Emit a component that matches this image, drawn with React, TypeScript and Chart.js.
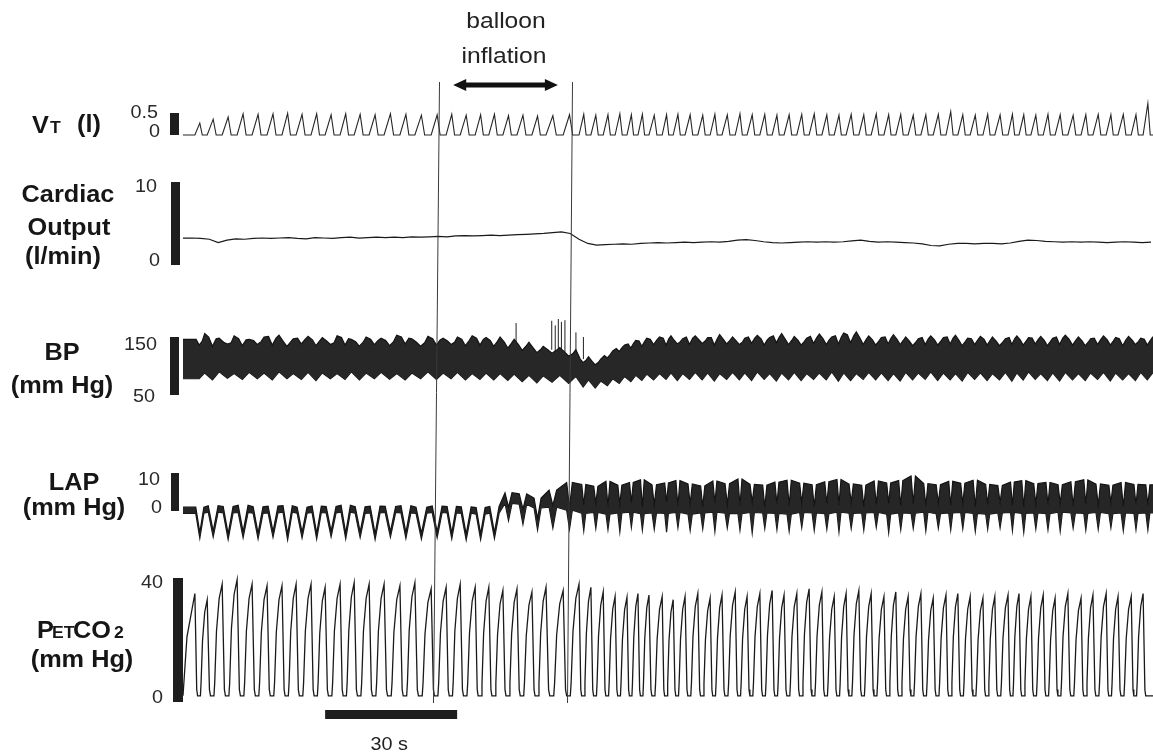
import React, { useEffect, useRef } from "react";
import { Chart, registerables } from "chart.js";

Chart.register(...registerables);

const W = 1153;
const H = 756;
const T_END = 220.45; // seconds shown across the trace area

// ---- breath timing (s): time of each end-tidal CO2 peak ----
const breathTimes = [
  2.7, 5.5, 8.9, 12.3, 15.7, 19.1, 22.5, 25.7, 29.1, 32.3,
  35.7, 38.9, 42.3, 45.7, 49.3, 52.7, 56.4, 59.8, 63.0, 66.4,
  69.5, 72.7, 75.9, 79.3, 82.5, 86.4, 90.0, 92.7, 95.5, 98.2,
  100.9, 103.4, 105.9, 108.9, 111.4, 114.1, 117.0, 119.8, 122.5, 125.5,
  128.2, 131.1, 133.9, 136.6, 139.5, 142.3, 145.2, 148.0, 150.7, 153.6,
  156.4, 159.3, 162.0, 164.8, 167.7, 170.5, 173.4, 176.1, 178.9, 181.8,
  184.5, 187.5, 190.0, 192.7, 195.5, 198.2, 201.1, 204.1, 206.8, 209.8,
  212.5, 215.5, 218.2,
];

// ---- tidal volume peak per breath (l) ----
const vtPeaks = [
  0.27, 0.36, 0.41, 0.48, 0.47, 0.48, 0.49, 0.47, 0.48, 0.46,
  0.48, 0.47, 0.46, 0.48, 0.47, 0.45, 0.46, 0.47, 0.45, 0.46,
  0.47, 0.44, 0.45, 0.43, 0.44, 0.46, 0.47, 0.45, 0.46, 0.48,
  0.46, 0.47, 0.45, 0.46, 0.47, 0.46, 0.45, 0.47, 0.46, 0.48,
  0.46, 0.47, 0.45, 0.46, 0.47, 0.48, 0.46, 0.45, 0.47, 0.46,
  0.48, 0.46, 0.47, 0.45, 0.46, 0.47, 0.53, 0.46, 0.45, 0.47,
  0.46, 0.47, 0.46, 0.45, 0.47, 0.46, 0.45, 0.46, 0.47, 0.46,
  0.47, 0.46, 0.72,
];

// ---- end-tidal CO2 peak per breath (mm Hg) ----
const co2Peaks = [
  35, 33, 38, 39.5, 38, 37.5, 37.5, 38, 38, 37,
  38, 38.5, 38, 38, 37.5, 38.5, 36.5, 37, 38, 37,
  37, 36, 36.5, 35.5, 37, 36, 38, 37, 35.5, 34,
  33.8, 35, 34.5, 34, 33, 34, 35, 33.5, 34.5, 35.5,
  34, 35, 36, 34.5, 35, 36.5, 35.5, 34, 35, 36,
  35, 34, 35.5, 34, 35, 33.5, 34.5, 35, 34, 33.5,
  34, 34.5, 35, 34, 34.5, 33.5, 35, 33.5, 34.5, 35,
  34, 34, 35,
];
const co2Trough = 2;

// ---- cardiac output (l/min), one reading every 2 s ----
const coStep = 2;
const cardiacOutput = [
  3.25, 3.25, 3.2, 3.1, 2.7, 3.0, 3.15, 3.1, 3.2, 3.25,
  3.2, 3.25, 3.3, 3.2, 3.15, 3.3, 3.25, 3.2, 3.3, 3.35,
  3.25, 3.3, 3.35, 3.3, 3.35, 3.3, 3.4, 3.35, 3.4, 3.45,
  3.4, 3.5, 3.55, 3.5, 3.55, 3.6, 3.55, 3.6, 3.65, 3.7,
  3.75, 3.8, 3.9, 4.0, 3.8, 3.1, 2.6, 2.4, 2.45, 2.5,
  2.55, 2.5, 2.6, 2.65, 2.7, 2.65, 2.7, 2.75, 2.7, 2.75,
  2.8, 2.75, 2.85, 3.0, 3.05, 2.95, 2.8, 2.7, 2.65, 2.7,
  2.75, 2.8, 2.75, 2.8, 2.75, 2.8, 2.9, 3.0, 2.85, 2.75,
  2.8, 2.75, 2.7, 2.65, 2.55, 2.35, 2.3, 2.5, 2.6, 2.6,
  2.55, 2.6, 2.6, 2.55, 2.65, 2.85, 3.0, 2.95, 2.85, 2.8,
  2.75, 2.8, 2.75, 2.8, 2.75, 2.7, 2.75, 2.8, 2.75, 2.7,
  2.75,
];

// ---- arterial pressure: upper edge of the trace, 4 readings per breath (mm Hg) ----
const bpUpperA = [
  146, 150, 141, 147, 144, 151, 142, 148, 145, 143,
  149, 142, 146, 144, 150, 141, 147, 143, 146, 148,
  144, 141, 137, 131, 128, 124, 112, 108, 118, 130,
  138, 143, 146, 148, 144, 150, 145, 149, 146, 143,
  150, 147, 152, 146, 144, 151, 147, 152, 154, 148,
  145, 150, 146, 143, 149, 145, 150, 144, 147, 146,
  143, 149, 145, 148, 144, 150, 146, 143, 148, 145,
  147, 144, 146,
];
const bpUpperDip = [
  136, 134, 138, 135, 137, 136, 134, 138, 135, 137,
  136, 134, 137, 135, 138, 134, 136, 137, 135, 136,
  134, 131, 127, 123, 122, 117, 106, 102, 114, 125,
  131, 134, 137, 136, 138, 137, 139, 136, 138, 137,
  139, 136, 140, 137, 136, 139, 137, 138, 140, 137,
  136, 138, 137, 135, 137, 136, 138, 135, 137, 136,
  135, 137, 136, 138, 135, 137, 136, 135, 137, 136,
  135, 137, 136,
];
const bpUpperB = [
  143, 147, 140, 145, 142, 148, 141, 146, 143, 140,
  147, 141, 144, 142, 148, 140, 145, 141, 144, 146,
  142, 139, 134, 128, 127, 121, 110, 106, 120, 132,
  139, 142, 145, 147, 142, 148, 143, 147, 144, 141,
  148, 145, 150, 144, 142, 149, 145, 150, 152, 146,
  143, 148, 144, 141, 147, 143, 148, 142, 145, 144,
  141, 147, 143, 146, 142, 148, 144, 141, 146, 143,
  145, 142, 144,
];
const bpUpper = [
  156, 148, 152, 146, 150, 153, 147, 151, 149, 152,
  146, 150, 148, 153, 147, 151, 148, 150, 152, 149,
  150, 146, 141, 134, 132, 128, 116, 112, 126, 136,
  144, 148, 150, 152, 147, 152, 149, 154, 150, 148,
  153, 149, 156, 151, 148, 155, 150, 157, 159, 152,
  149, 154, 150, 147, 152, 149, 153, 148, 151, 150,
  147, 152, 149, 151, 148, 153, 150, 147, 152, 149,
  151, 148, 150,
];
// lower edge of the trace, 2 readings per breath (mm Hg)
const bpLowerDip = [
  78, 76, 79, 77, 78, 76, 78, 77, 75, 78,
  77, 76, 78, 77, 76, 78, 77, 78, 76, 77,
  76, 75, 73, 71, 72, 70, 64, 62, 66, 70,
  73, 75, 76, 77, 75, 77, 76, 74, 77, 76,
  75, 77, 74, 76, 75, 77, 76, 74, 75, 77,
  76, 75, 74, 76, 77, 75, 76, 74, 77, 75,
  76, 74, 76, 77, 75, 74, 76, 75, 77, 74,
  76, 75, 76,
];
const bpLowerHigh = [
  88, 90, 87, 89, 88, 90, 87, 89, 88, 87,
  90, 88, 89, 87, 88, 90, 88, 89, 87, 88,
  87, 86, 84, 83, 84, 82, 76, 74, 78, 82,
  84, 86, 87, 88, 87, 89, 88, 87, 89, 88,
  90, 87, 88, 89, 87, 88, 90, 88, 87, 89,
  88, 87, 89, 88, 90, 88, 87, 89, 88, 87,
  89, 88, 90, 87, 88, 89, 87, 88, 89, 88,
  87, 89, 88,
];
// isolated tall pressure spikes (s, top mm Hg, base mm Hg)
const bpSpikeTimes = [75.7, 83.8, 84.6, 85.3, 86.0, 86.8, 89.3, 91.0];
const bpSpikeTops = [174, 178, 170, 181, 176, 179, 158, 150];
const bpSpikeBases = [130, 128, 125, 126, 127, 124, 118, 112];

// ---- left atrial pressure per breath (mm Hg) ----
const lapTop = [
  1.0, 1.4, 1.2, 1.5, 1.1, 1.3, 1.4, 1.0, 1.3, 1.2,
  1.5, 1.1, 1.3, 1.2, 1.4, 1.0, 1.3, 1.2, 1.1, 0.9,
  1.2, 4.8, 4.5, 3.4, 5.5, 7.5, 7.0, 6.5, 7.8, 6.8,
  7.5, 8.2, 6.9, 7.4, 8.0, 7.1, 6.6, 7.9, 7.2, 8.4,
  7.0, 6.8, 7.6, 8.1, 7.3, 6.9, 7.7, 8.3, 7.1, 6.8,
  7.9, 7.4, 8.0, 9.2, 7.2, 6.9, 7.8, 7.3, 8.1, 7.0,
  6.7, 7.6, 8.0, 7.2, 7.5, 6.9, 7.7, 8.2, 7.1, 6.8,
  7.5, 7.0, 6.9,
];
const lapMid = [
  -0.6, -0.3, -0.5, -0.4, -0.6, -0.5, -0.3, -0.6, -0.4, -0.5,
  -0.3, -0.6, -0.5, -0.4, -0.5, -0.6, -0.4, -0.5, -0.6, -0.8,
  -0.6, 2.0, 1.8, 0.8, 1.0, 0.2, -0.6, -0.4, -0.8, -0.5,
  -0.3, -0.7, -0.5, -0.6, -0.4, -0.8, -0.5, -0.3, -0.6, -0.7,
  -0.4, -0.5, -0.6, -0.8, -0.4, -0.5, -0.7, -0.3, -0.6, -0.5,
  -0.4, -0.8, -0.5, -0.6, -0.3, -0.7, -0.5, -0.4, -0.6, -0.8,
  -0.5, -0.4, -0.6, -0.5, -0.7, -0.3, -0.5, -0.6, -0.4, -0.7,
  -0.5, -0.6, -0.5,
];
const lapNotch = [
  -5.7, -5.3, -6.0, -5.5, -5.8, -5.4, -6.1, -5.6, -5.9, -5.3,
  -5.8, -5.5, -6.0, -5.4, -5.7, -5.9, -5.5, -5.8, -6.1, -6.0,
  -5.7, 1.0, 0.5, -2.0, 1.5, 1.0, 1.5, 2.0, 1.2, 1.8,
  2.2, 1.0, 1.6, 2.4, 1.3, 1.9, 1.1, 2.1, 1.7, 1.4,
  2.3, 1.0, 1.8, 1.5, 2.0, 1.2, 1.9, 1.6, 2.2, 1.1,
  1.7, 2.0, 1.4, 1.8, 1.3, 2.1, 1.5, 1.9, 1.2, 1.7,
  2.2, 1.4, 1.0, 1.8, 1.6, 2.0, 1.3, 1.7, 1.5, 2.1,
  1.2, 1.6, 1.5,
];
const lapDip = [
  -7.2, -6.8, -7.5, -7.0, -7.3, -6.9, -7.6, -7.1, -7.4, -6.8,
  -7.3, -7.0, -7.5, -6.9, -7.2, -7.4, -7.0, -7.3, -7.6, -7.5,
  -7.2, -2.5, -3.5, -5.0, -4.5, -4.8, -5.2, -4.6, -4.9, -5.5,
  -4.3, -5.0, -4.8, -5.6, -4.4, -5.1, -4.7, -5.4, -4.5, -5.0,
  -5.8, -4.6, -4.9, -5.3, -4.4, -5.1, -4.8, -5.5, -4.6, -5.0,
  -4.3, -5.7, -4.9, -4.6, -5.2, -4.5, -5.0, -4.7, -5.4, -4.8,
  -4.4, -5.1, -5.6, -4.7, -4.9, -5.3, -4.5, -5.0, -4.8, -4.4,
  -5.2, -4.9, -5.0,
];
// half-width of each LAP dip, as a share of the breath
const lapDipWidth = [
  0.33, 0.33, 0.33, 0.33, 0.33, 0.33, 0.33, 0.33, 0.33, 0.33,
  0.33, 0.33, 0.33, 0.33, 0.33, 0.33, 0.33, 0.33, 0.33, 0.33,
  0.33, 0.25, 0.25, 0.25, 0.22, 0.18, 0.17, 0.17, 0.17, 0.17,
  0.17, 0.17, 0.17, 0.17, 0.17, 0.17, 0.17, 0.17, 0.17, 0.17,
  0.17, 0.17, 0.17, 0.17, 0.17, 0.17, 0.17, 0.17, 0.17, 0.17,
  0.17, 0.17, 0.17, 0.17, 0.17, 0.17, 0.17, 0.17, 0.17, 0.17,
  0.17, 0.17, 0.17, 0.17, 0.17, 0.17, 0.17, 0.17, 0.17, 0.17,
  0.17, 0.17, 0.17,
];

// ---- events & scale ----
const inflationLineTop = [58.2, 88.4]; // s, at the top of each marker line
const inflationLineBottom = [56.8, 87.3]; // s, at the bottom of each marker line
const arrowSpan = [61.4, 85.2];
const scaleBarStart = 32.3;
const scaleBarLength = 30;
const scaleBarLabel = "30 s";
const eventLabel = ["balloon", "inflation"];

// ---- channel scale bars & their tick labels ----
const channelAxes = ["yVT", "yCO", "yBP", "yLAP", "yCO2"];
const channelBarLow = [0, 0, 50, 0, 0];
const channelBarHigh = [0.5, 10, 150, 10, 40];
const channelTickLow = ["0", "0", "50", "0", "0"];
const channelTickHigh = ["0.5", "10", "150", "10", "40"];

// ---------- layout helpers ----------
function axisFor(v0: number, p0: number, v1: number, p1: number) {
  const k = (p0 - p1) / (v1 - v0);
  return { min: v0 - (H - p0) / k, max: v0 + p0 / k };
}

type Pt = { x: number; y: number | null };

function period(i: number) {
  const n = breathTimes.length;
  return i < n - 1 ? breathTimes[i + 1] - breathTimes[i] : breathTimes[i] - breathTimes[i - 1];
}

function buildVT(): Pt[] {
  const pts: Pt[] = [{ x: 0, y: 0 }];
  breathTimes.forEach((T, i) => {
    const P = period(i);
    pts.push({ x: T, y: 0 }, { x: T + 0.4 * P, y: vtPeaks[i] }, { x: T + 0.6 * P, y: 0 });
  });
  pts.push({ x: T_END, y: 0 });
  return pts;
}

function buildCO2(): Pt[] {
  const pts: Pt[] = [
    { x: 0, y: co2Trough },
    { x: 0.9, y: 0.6 * co2Peaks[0] },
  ];
  const n = breathTimes.length;
  breathTimes.forEach((T, i) => {
    const P = period(i);
    pts.push(
      { x: T, y: co2Peaks[i] },
      { x: T + 0.15 * P, y: 4 },
      { x: T + 0.22 * P, y: co2Trough }
    );
    if (i < n - 1) {
      const nx = co2Peaks[i + 1];
      pts.push(
        { x: T + 0.45 * P, y: co2Trough },
        { x: T + 0.5 * P, y: 6 },
        { x: T + 0.62 * P, y: 0.6 * nx },
        { x: T + 0.8 * P, y: 0.88 * nx }
      );
    } else {
      pts.push({ x: T_END, y: co2Trough });
    }
  });
  return pts;
}

function buildCO(): Pt[] {
  return cardiacOutput.map((v, i) => ({ x: i * coStep, y: v }));
}

// one edge of a band: readings at given shares of each breath
function buildEdge(fr: number[], vals: number[][]): Pt[] {
  const pts: Pt[] = [];
  breathTimes.forEach((T, i) => {
    const P = period(i);
    fr.forEach((f, k) => pts.push({ x: T + f * P, y: vals[k][i] }));
  });
  pts.unshift({ x: 0, y: pts[0].y });
  pts.push({ x: T_END, y: pts[pts.length - 1].y });
  return pts;
}

function buildLapEdge(hump: number[], dip: number[]): Pt[] {
  const pts: Pt[] = [];
  breathTimes.forEach((T, i) => {
    const P = period(i);
    const w = lapDipWidth[i];
    pts.push(
      { x: T + (0.4 - w) * P, y: hump[i] },
      { x: T + 0.4 * P, y: dip[i] },
      { x: T + (0.4 + w) * P, y: hump[i] }
    );
  });
  pts.unshift({ x: 0, y: pts[0].y });
  pts.push({ x: T_END, y: pts[pts.length - 1].y });
  return pts;
}

function buildSpikes(): Pt[] {
  const pts: Pt[] = [];
  bpSpikeTimes.forEach((t, i) => {
    pts.push({ x: t, y: bpSpikeBases[i] }, { x: t, y: bpSpikeTops[i] }, { x: t, y: null });
  });
  return pts;
}

const FONT = '"Liberation Sans", Arial, Helvetica, sans-serif';

function drawText(
  ctx: CanvasRenderingContext2D,
  s: string,
  x: number,
  y: number,
  size: number,
  bold: boolean,
  align: CanvasTextAlign,
  sx = 1.1,
  color = "#161616"
) {
  ctx.save();
  ctx.font = `${bold ? "bold " : ""}${size}px ${FONT}`;
  ctx.fillStyle = color;
  ctx.textAlign = align;
  ctx.textBaseline = "alphabetic";
  ctx.translate(x, y);
  ctx.scale(sx, 1);
  ctx.fillText(s, 0, 0);
  ctx.restore();
}

// channel name labels (text, x, baseline, size, bold, align)
const rowLabels: [string, number, number, number, boolean, CanvasTextAlign][] = [
  ["V", 32, 133, 23, true, "left"],
  ["T", 50, 133, 16, true, "left"],
  ["(l)", 77, 132, 23, true, "left"],
  ["Cardiac", 68, 202, 23, true, "center"],
  ["Output", 69, 235, 23, true, "center"],
  ["(l/min)", 63, 264, 23, true, "center"],
  ["BP", 62, 360, 23, true, "center"],
  ["(mm Hg)", 62, 393, 23, true, "center"],
  ["LAP", 74, 490, 23, true, "center"],
  ["(mm Hg)", 74, 515, 23, true, "center"],
  ["P", 37, 638, 23, true, "left"],
  ["ET", 52, 638, 16, true, "left"],
  ["CO", 73, 638, 23, true, "left"],
  ["2", 114, 638, 16, true, "left"],
  ["(mm Hg)", 82, 667, 23, true, "center"],
];

// per channel: bar x, bar width, tick right edges & baseline offsets
const barX = [170, 171, 170, 171, 173];
const barWidth = [9, 9, 9, 8, 10];
const tickRightLow = [160, 160, 155, 162, 163];
const tickRightHigh = [158, 157, 157, 160, 163];
const tickDyLow = [2, 1, 7, 2, 1];
const tickDyHigh = [5, 10, 13, 12, 10];

const decorPlugin = {
  id: "decor",
  afterDraw(chart: any) {
    const ctx: CanvasRenderingContext2D = chart.ctx;
    const xs = chart.scales.x;

    // marker lines for balloon inflation
    ctx.save();
    ctx.strokeStyle = "#3a3a3a";
    ctx.lineWidth = 1;
    inflationLineTop.forEach((t, i) => {
      ctx.beginPath();
      ctx.moveTo(Math.round(xs.getPixelForValue(t)) + 0.5, 82);
      ctx.lineTo(Math.round(xs.getPixelForValue(inflationLineBottom[i])) + 0.5, 703);
      ctx.stroke();
    });
    ctx.restore();

    // double arrow
    const ax0 = xs.getPixelForValue(arrowSpan[0]);
    const ax1 = xs.getPixelForValue(arrowSpan[1]);
    const ay = 85;
    ctx.save();
    ctx.fillStyle = "#111";
    ctx.fillRect(ax0 + 8, ay - 2.5, ax1 - ax0 - 16, 5);
    ctx.beginPath();
    ctx.moveTo(ax0, ay);
    ctx.lineTo(ax0 + 13, ay - 6);
    ctx.lineTo(ax0 + 13, ay + 6);
    ctx.closePath();
    ctx.fill();
    ctx.beginPath();
    ctx.moveTo(ax1, ay);
    ctx.lineTo(ax1 - 13, ay - 6);
    ctx.lineTo(ax1 - 13, ay + 6);
    ctx.closePath();
    ctx.fill();
    ctx.restore();

    drawText(ctx, eventLabel[0], 506, 28, 22, false, "center", 1.12, "#222");
    drawText(ctx, eventLabel[1], 504, 63, 22, false, "center", 1.12, "#222");

    // channel scale bars and tick labels
    channelAxes.forEach((id, i) => {
      const ys = chart.scales[id];
      const pLow = ys.getPixelForValue(channelBarLow[i]);
      const pHigh = ys.getPixelForValue(channelBarHigh[i]);
      ctx.save();
      ctx.fillStyle = "#1e1e1e";
      ctx.fillRect(barX[i], pHigh, barWidth[i], pLow - pHigh);
      ctx.restore();
      drawText(ctx, channelTickLow[i], tickRightLow[i], pLow + tickDyLow[i], 18, false, "right", 1.1, "#2a2a2a");
      drawText(ctx, channelTickHigh[i], tickRightHigh[i], pHigh + tickDyHigh[i], 18, false, "right", 1.1, "#2a2a2a");
    });

    rowLabels.forEach(([s, x, y, size, b, a]) => drawText(ctx, s, x, y, size, b, a, 1.1));

    // time scale bar
    const sx0 = xs.getPixelForValue(scaleBarStart);
    const sx1 = xs.getPixelForValue(scaleBarStart + scaleBarLength);
    ctx.save();
    ctx.fillStyle = "#1e1e1e";
    ctx.fillRect(sx0, 710, sx1 - sx0, 9);
    ctx.restore();
    drawText(ctx, scaleBarLabel, (sx0 + sx1) / 2 - 2, 750, 18, false, "center", 1.1, "#222");
  },
};

export default function App() {
  const ref = useRef<HTMLCanvasElement>(null);

  useEffect(() => {
    const canvas = ref.current;
    if (!canvas) return;

    const bpU = buildEdge([0.1, 0.35, 0.6, 0.8], [bpUpperA, bpUpperDip, bpUpperB, bpUpper]);
    const bpL = buildEdge([0.35, 0.8], [bpLowerDip, bpLowerHigh]);
    const lapU = buildLapEdge(lapTop, lapNotch);
    const lapL = buildLapEdge(lapMid, lapDip);

    const line = (data: Pt[], axis: string, width: number, color = "#1a1a1a") => ({
      data,
      yAxisID: axis,
      borderColor: color,
      borderWidth: width,
      pointRadius: 0,
      fill: false,
      tension: 0,
    });

    const chart = new Chart(canvas, {
      type: "line",
      data: {
        datasets: [
          line(buildVT(), "yVT", 1.1, "#262626"),
          line(buildCO(), "yCO", 1.2),
          {
            ...line(bpU, "yBP", 1.2, "#141414"),
            fill: "+1",
            backgroundColor: "#272727",
          },
          line(bpL, "yBP", 1.2, "#141414"),
          { ...line(buildSpikes(), "yBP", 1, "#222"), spanGaps: false },
          {
            ...line(lapU, "yLAP", 1.2, "#141414"),
            fill: "+1",
            backgroundColor: "#262626",
          },
          line(lapL, "yLAP", 1.2, "#141414"),
          line(buildCO2(), "yCO2", 1.3),
        ] as any,
      },
      options: {
        animation: false,
        responsive: false,
        maintainAspectRatio: false,
        events: [],
        layout: { padding: { left: 183, right: 0, top: 0, bottom: 0 } },
        plugins: {
          legend: { display: false },
          tooltip: { enabled: false },
          title: { display: false },
        },
        scales: {
          x: { type: "linear", min: 0, max: T_END, display: false },
          yVT: { type: "linear", display: false, ...axisFor(0, 135, 0.5, 113) },
          yCO: { type: "linear", display: false, ...axisFor(0, 265, 10, 182) },
          yBP: { type: "linear", display: false, ...axisFor(50, 395, 150, 337) },
          yLAP: { type: "linear", display: false, ...axisFor(0, 511, 10, 473) },
          yCO2: { type: "linear", display: false, ...axisFor(0, 702, 40, 578) },
        },
      } as any,
      plugins: [decorPlugin],
    });

    return () => chart.destroy();
  }, []);

  return (
    <div style={{ position: "fixed", left: 0, top: 0, width: W, height: H, background: "#fff" }}>
      <canvas ref={ref} width={W} height={H} style={{ display: "block", width: W, height: H }} />
    </div>
  );
}
